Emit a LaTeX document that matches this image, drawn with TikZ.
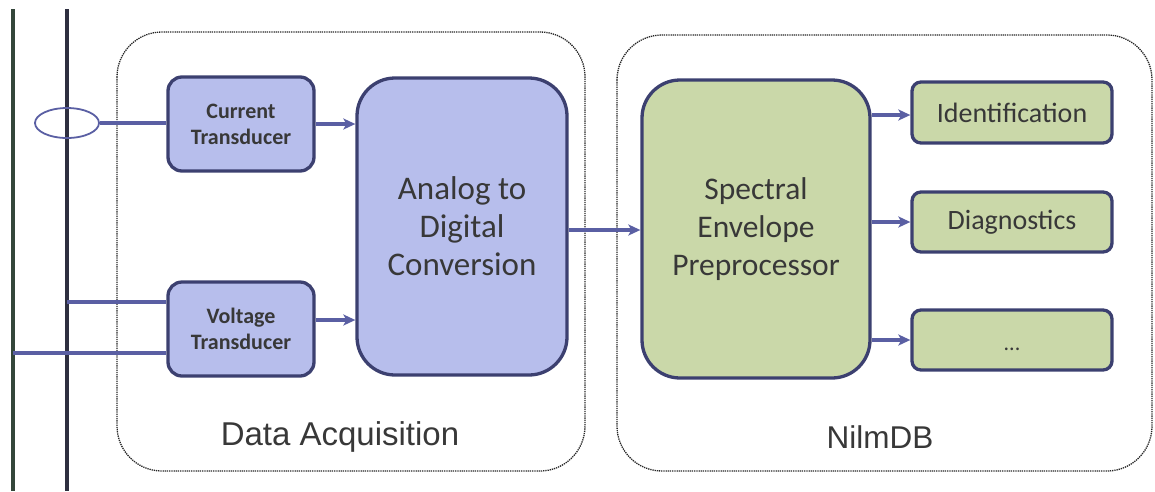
\documentclass[tikz,border=0pt]{standalone}
\usepackage{fontspec}
\setmainfont{Carlito}
\newfontfamily\labelfont{Liberation Sans}
\usetikzlibrary{arrows.meta,shapes.geometric}
\definecolor{bluefill}{HTML}{B7BEEC}
\definecolor{greenfill}{HTML}{CAD8A9}
\definecolor{boxline}{HTML}{3C4070}
\definecolor{arrowcol}{HTML}{5A5FA3}
\definecolor{txt}{HTML}{383838}
\definecolor{busone}{HTML}{34463A}
\definecolor{bustwo}{HTML}{2E2F40}
\tikzset{
  x=1pt,y=-1pt,
  blk/.style={draw=boxline,line width=3.3pt,rounded corners=14pt,text=txt,align=center,inner sep=0pt},
  bluebox/.style={blk,fill=bluefill},
  greenbox/.style={blk,fill=greenfill},
  group/.style={draw=black!85,dash pattern=on 1.3pt off 0.9pt,line width=1.3pt,rounded corners=45pt},
  conn/.style={draw=arrowcol,line width=3.6pt},
  arr/.style={conn,-{Stealth[length=12pt,width=11pt,inset=3pt]}},
  bus/.style={line width=3.6pt},
  grplabel/.style={font=\labelfont\fontsize{33}{38}\selectfont,text=txt}
}
\begin{document}
\begin{tikzpicture}
\useasboundingbox (0,0) rectangle (1155,491);
% group boxes
\draw[group] (117,32) rectangle (585,471);
\draw[group] (617,35) rectangle (1152,471);
\node[grplabel] (dalabel) at (340,437) {Data Acquisition};
\node[grplabel,font=\labelfont\fontsize{31.5}{38}\selectfont] (nilmlabel) at (880,437) {NilmDB};
% bus lines
\coordinate (b1top) at (13,9);
\coordinate (b1bot) at (13,491);
\coordinate (b2top) at (67,9);
\coordinate (b2bot) at (67,491);
\draw[bus,draw=busone] (b1top) -- (b1bot);
\draw[bus,draw=bustwo] (b2top) -- (b2bot);
% blocks
\node[bluebox,minimum width=146,minimum height=94,font=\bfseries\fontsize{22}{26}\selectfont] (ct) at (241,124) {Current\\Transducer};
\node[bluebox,minimum width=146,minimum height=94,font=\bfseries\fontsize{22}{26}\selectfont] (vt) at (241,329) {Voltage\\Transducer};
\node[bluebox,rounded corners=38pt,minimum width=210,minimum height=297,font=\fontsize{33}{38}\selectfont] (adc) at (462,226.5) {Analog to\\Digital\\Conversion};
\node[greenbox,rounded corners=38pt,minimum width=228,minimum height=298,font=\fontsize{31.5}{38}\selectfont] (sep) at (756,229) {Spectral\\Envelope\\Preprocessor};
\node[greenbox,rounded corners=9pt,minimum width=200,minimum height=61,font=\fontsize{28}{30}\selectfont] (idn) at (1012,112.5) {Identification};
\node[greenbox,rounded corners=9pt,minimum width=200,minimum height=60,font=\fontsize{28}{30}\selectfont] (diag) at (1012,222) {Diagnostics};
\node[greenbox,rounded corners=9pt,minimum width=200,minimum height=60,text height=20pt,text depth=0pt,font=\fontsize{22}{30}\selectfont] (more) at (1012,340) {...};
% current sensor ring
\node[draw=arrowcol,line width=1.8pt,ellipse,minimum width=64,minimum height=30,inner sep=0pt] (ring) at (67,123) {};
\draw[conn] (ring.east) -- (ring.east -| ct.west);
% voltage taps
\coordinate (tapa) at (67,302);
\coordinate (tapb) at (13,353);
\draw[conn] (tapa) -- (tapa -| vt.west);
\draw[conn] (tapb) -- (tapb -| vt.west);
% arrows
\draw[arr] (ct.east) -- (ct.east -| adc.west);
\draw[arr] (vt.east |- 0,320) -- (adc.west |- 0,320);
\draw[arr] (adc.east |- 0,230) -- (sep.west |- 0,230);
\draw[arr] (sep.east |- 0,115) -- (idn.west |- 0,115);
\draw[arr] (sep.east |- 0,222) -- (diag.west);
\draw[arr] (sep.east |- 0,340) -- (more.west);
\end{tikzpicture}
\end{document}
